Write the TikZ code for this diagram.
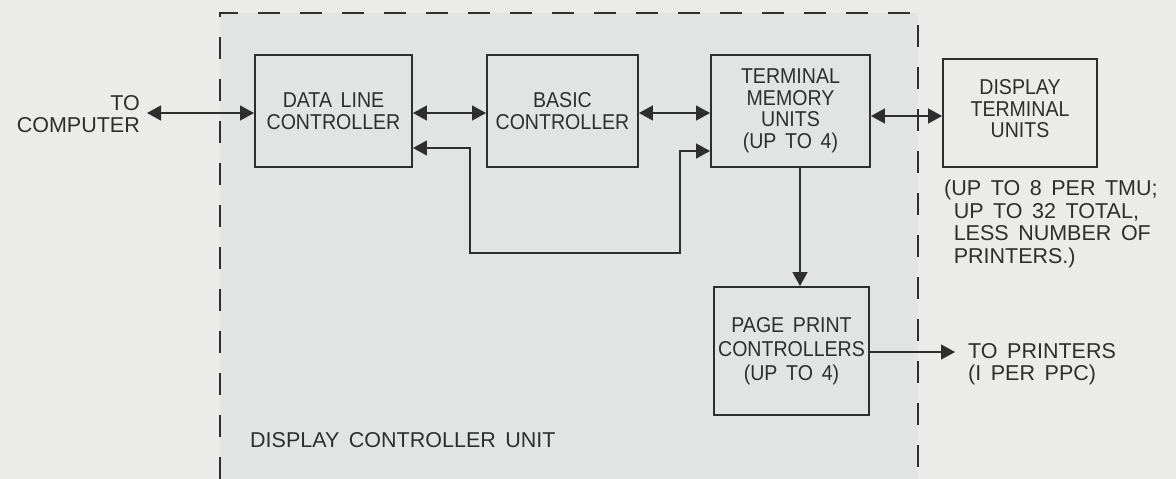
\documentclass[tikz,border=0pt]{standalone}
\usepackage{fontspec}
\setmainfont{Liberation Sans}[WordSpace=1.6]
\newfontfamily\boxfont{Liberation Sans}[FakeStretch=0.91, WordSpace=1.6]
\usetikzlibrary{arrows.meta}
\definecolor{bg}{HTML}{EBEBE9}
\definecolor{inner}{HTML}{E2E4E4}
\definecolor{ink}{HTML}{2E2E2E}
\tikzset{
  blk/.style={draw=ink, line width=1.9pt, fill=inner, align=center, text=ink,
    font=\boxfont\fontsize{21.5}{21.5}\selectfont, inner sep=0pt},
  lbl/.style={text=ink, font=\fontsize{21.5}{22.5}\selectfont, inner sep=0pt},
  con/.style={draw=ink, line width=1.4pt},
  tip/.style={-{Triangle[length=14pt,width=15pt]}},
  bitip/.style={{Triangle[length=14pt,width=15pt]}-{Triangle[length=14pt,width=15pt]}},
}
\begin{document}
\begin{tikzpicture}[x=1pt,y=-1pt]
\fill[bg] (0,0) rectangle (1176,479);
\useasboundingbox (0,0) rectangle (1176,479);
% region
\fill[inner] (220,13) rectangle (918,479);
\draw[ink, line width=1.6pt, dash pattern=on 22pt off 20pt] (220,479) -- (220,13) -- (918,13) -- (918,479);
% blocks
\node[blk, minimum width=157pt, minimum height=112pt] (dlc) at (333.5,111) {DATA LINE\\CONTROLLER};
\node[blk, minimum width=151pt, minimum height=112pt] (bc) at (562.5,111) {BASIC\\CONTROLLER};
\node[blk, minimum width=159pt, minimum height=112pt] (tmu) at (790.5,111) {TERMINAL\\MEMORY\\UNITS\\(UP TO 4)};
\node[blk, fill=bg, minimum width=154pt, minimum height=108pt] (dtu) at (1020,113) {};
\node[text=ink, font=\boxfont\fontsize{21.5}{21.5}\selectfont, align=center, inner sep=0pt] (dtut) at (1020,109) {DISPLAY\\TERMINAL\\UNITS};
\node[blk, minimum width=155pt, minimum height=128pt, font=\boxfont\fontsize{21.5}{24}\selectfont] (ppc) at (791.5,351) {PAGE PRINT\\CONTROLLERS\\(UP TO 4)};
% labels
\node[lbl, align=right, anchor=east] (comp) at (140,114) {TO\\COMPUTER};
\node[lbl, align=left, anchor=north west] (note) at (944,180) {(UP TO 8 PER TMU;\\\ UP TO 32 TOTAL,\\\ LESS NUMBER OF\\\ PRINTERS.)};
\node[lbl, align=left, anchor=west] (prn) at (968,364) {TO PRINTERS\\(I PER PPC)};
\node[lbl, anchor=west] (dcu) at (250,440) {DISPLAY CONTROLLER UNIT};
% connectors
\coordinate (compend) at (147,113);
\draw[con, bitip] (compend) -- (dlc.west |- compend);
\draw[con, bitip] (dlc.east |- 0,113) -- (bc.west |- 0,113);
\draw[con, bitip] (bc.east |- 0,113) -- (tmu.west |- 0,113);
\draw[con, bitip] (tmu.east |- 0,116) -- (dtu.west |- 0,116);
\draw[con, bitip] (dlc.east |- 0,148) -| (470,253) -| (680,151) -- (tmu.west |- 0,151);
\draw[con, tip] (tmu.south -| 800,0) -- (ppc.north -| 800,0);
\coordinate (prnend) at (955,352);
\draw[con, tip] (ppc.east |- prnend) -- (prnend);
\end{tikzpicture}
\end{document}
